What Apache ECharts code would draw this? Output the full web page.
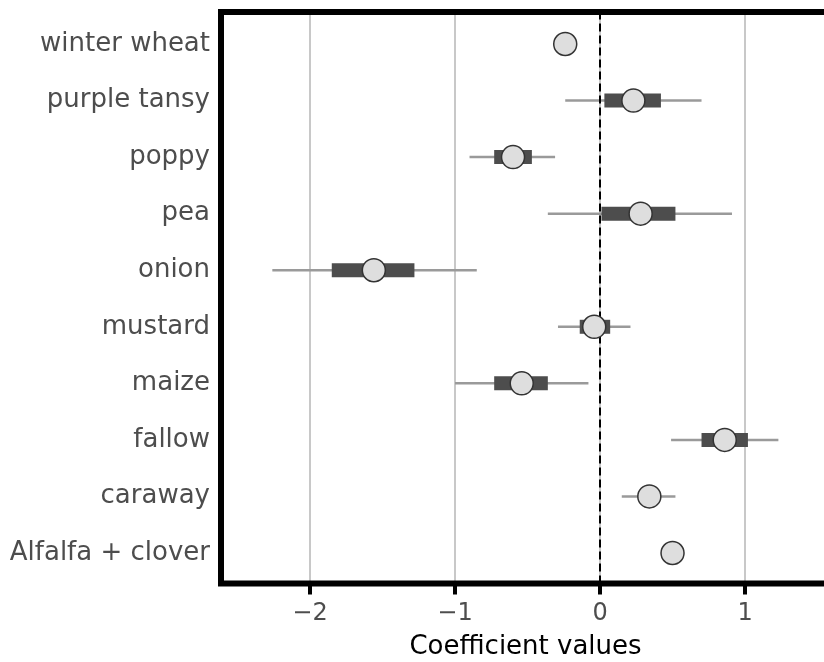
<!DOCTYPE html>
<html>
<head>
<meta charset="utf-8">
<script src="https://cdn.jsdelivr.net/npm/echarts@6/dist/echarts.min.js"></script>
<style>html,body{margin:0;padding:0;background:#fff;}#c{width:824px;height:662px;}</style>
</head>
<body>
<div id="c"></div>
<script>
const categories = ['winter wheat','purple tansy','poppy','pea','onion','mustard','maize','fallow','caraway','Alfalfa + clover'];
const estimates  = [-0.24, 0.23, -0.60, 0.28, -1.56, -0.04, -0.54, 0.86, 0.34, 0.50];
const outerLow   = [-0.30, -0.24, -0.90, -0.36, -2.26, -0.29, -1.00, 0.49, 0.15, 0.44];
const outerHigh  = [-0.18, 0.70, -0.31, 0.91, -0.85, 0.21, -0.08, 1.23, 0.52, 0.56];
const innerLow   = [-0.27, 0.03, -0.73, 0.01, -1.85, -0.14, -0.73, 0.70, 0.28, 0.46];
const innerHigh  = [-0.21, 0.42, -0.47, 0.52, -1.28, 0.07, -0.36, 1.02, 0.40, 0.54];
const xTicks = [-2, -1, 0, 1];
const xMin = -2.614, xMax = 1.586;

const FONT = 'DejaVu Sans';
const chart = echarts.init(document.getElementById('c'), null, {renderer: 'canvas'});

const intervalData = categories.map((c, i) => [i, outerLow[i], outerHigh[i], innerLow[i], innerHigh[i]]);
const pointData = categories.map((c, i) => [estimates[i], i]);

chart.setOption({
  animation: false,
  backgroundColor: '#fff',
  grid: [
    {left: 221, width: 609, top: 12, bottom: 78.5, show: true, borderColor: '#000', borderWidth: 6, z: 3,
     outerBoundsMode: 'none', containLabel: false},
    {left: 221, width: 609, top: 15.7, bottom: 80.7, outerBoundsMode: 'none', containLabel: false}
  ],
  xAxis: [
    {
      type: 'value', gridIndex: 0, min: xMin, max: xMax,
      axisLine: {show: false},
      axisTick: {show: true, length: 11, lineStyle: {color: '#000', width: 4}, customValues: xTicks},
      axisLabel: {
        customValues: xTicks, margin: 18, color: '#4d4d4d', fontFamily: FONT, fontSize: 24,
        formatter: v => String(v).replace('-', '\u2212')
      },
      splitLine: {show: true, lineStyle: {color: '#c8c8c8', width: 2}},
      name: 'Coefficient values', nameLocation: 'middle', nameGap: 51,
      nameTextStyle: {color: '#000', fontFamily: FONT, fontSize: 26}
    },
    {
      type: 'value', gridIndex: 1, min: xMin, max: xMax, show: false,
      splitLine: {show: false}
    }
  ],
  yAxis: [
    {type: 'value', gridIndex: 0, min: 0, max: 1, show: false, splitLine: {show: false}},
    {
      type: 'category', gridIndex: 1, data: categories, inverse: true,
      axisLine: {show: false}, axisTick: {show: false},
      axisLabel: {margin: 11, color: '#4d4d4d', fontFamily: FONT, fontSize: 26},
      splitLine: {show: false}
    }
  ],
  series: [
    {
      type: 'line', xAxisIndex: 0, yAxisIndex: 0, data: [], silent: true,
      markLine: {
        symbol: 'none', silent: true, label: {show: false},
        lineStyle: {color: '#000', width: 2, type: [8, 4]},
        data: [{xAxis: 0}]
      }
    },
    {
      type: 'custom', xAxisIndex: 1, yAxisIndex: 1, data: intervalData,
      encode: {x: [1, 2, 3, 4], y: 0}, z: 4,
      renderItem: function (params, api) {
        const i = api.value(0);
        const a = api.coord([api.value(1), i]);
        const b = api.coord([api.value(2), i]);
        const c = api.coord([api.value(3), i]);
        const d = api.coord([api.value(4), i]);
        const h = 14;
        return {
          type: 'group',
          children: [
            {type: 'line', shape: {x1: a[0], y1: a[1], x2: b[0], y2: b[1]}, style: {stroke: '#9a9a9a', lineWidth: 2.5}},
            {type: 'rect', shape: {x: c[0], y: c[1] - h / 2, width: d[0] - c[0], height: h}, style: {fill: '#4d4d4d'}}
          ]
        };
      }
    },
    {
      type: 'scatter', xAxisIndex: 1, yAxisIndex: 1, data: pointData, z: 5,
      symbol: 'circle', symbolSize: 23,
      itemStyle: {color: '#dedede', borderColor: '#333', borderWidth: 1.5, opacity: 1}
    }
  ]
});
</script>
</body>
</html>
